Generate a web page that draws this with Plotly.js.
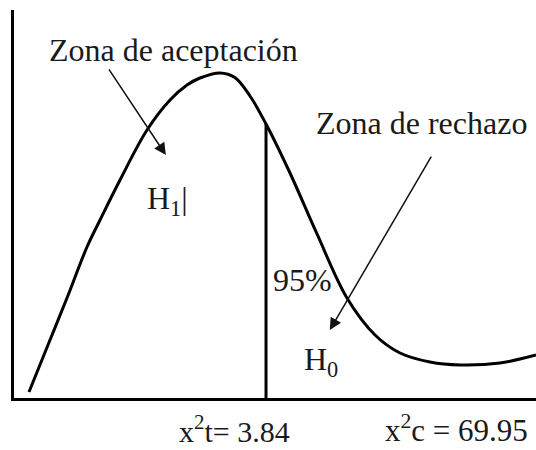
<!DOCTYPE html>
<html>
<head>
<meta charset="utf-8">
<script src="https://cdn.plot.ly/plotly-3.0.1.min.js"></script>
<style>
  html, body { margin: 0; padding: 0; background: #fff; }
  #plot { width: 536px; height: 450px; }
</style>
</head>
<body>
<div id="plot"></div>
<script>
// Curve (x on a 0-100 scale, y on a 0-100 scale)
let curveX = [2.87, 6.51, 10.15, 13.98, 16.48, 20.31, 25.48, 29.89, 33.14, 35.63, 39.46, 42.3, 45.21, 48.28, 52.87, 58.05, 63.79, 69.16, 73.95, 79.69, 85.44, 93.10, 100];
let curveY = [1.55, 13.66, 25.77, 38.92, 45.88, 56.19, 69.07, 76.80, 80.67, 82.47, 83.76, 82.6, 77.84, 70.62, 57.99, 42.27, 25.77, 16.24, 11.60, 9.28, 8.51, 9.02, 11.08];

// Critical value line
let critX = [48.28, 48.28];
let critY = [0, 70.62];

// Texts
let zoneLabels = ['Zona de aceptación', 'Zona de rechazo'];
let hypLabels = ['H<sub>1</sub>|', 'H<sub>0</sub>'];
let pctLabel = '95%';
let valueLabels = ['x<sup>2</sup>t= 3.84', 'x<sup>2</sup>c = 69.95'];

const serif = "'Liberation Serif', 'Times New Roman', serif";

let traceCurve = {
    x: curveX,
    y: curveY,
    mode: 'lines',
    type: 'scatter',
    line: { color: '#000', width: 3, shape: 'spline', smoothing: 1 },
    hoverinfo: 'skip'
};

let traceCrit = {
    x: critX,
    y: critY,
    mode: 'lines',
    type: 'scatter',
    line: { color: '#000', width: 3 },
    hoverinfo: 'skip'
};

function label(text, x, y, opts) {
    opts = opts || {};
    return {
        text: text, x: x, y: y, xref: 'x', yref: opts.yref || 'y',
        showarrow: false, xanchor: 'center', yanchor: opts.yanchor || 'middle',
        font: { family: serif, size: opts.size || 32, color: '#1a1a1a' }
    };
}

function arrow(x0, y0, x1, y1) {
    return {
        text: '', x: x1, y: y1, ax: x0, ay: y0,
        xref: 'x', yref: 'y', axref: 'x', ayref: 'y',
        showarrow: true, arrowhead: 2, arrowsize: 1.6, arrowwidth: 1.5,
        arrowcolor: '#111', standoff: 0, startstandoff: 0
    };
}

let layout = {
    width: 536,
    height: 450,
    margin: { l: 14, r: 0, t: 10, b: 52 },
    paper_bgcolor: '#fff',
    plot_bgcolor: '#fff',
    showlegend: false,
    font: { family: serif },
    xaxis: {
        range: [0, 100], showgrid: false, zeroline: false, showticklabels: false, ticks: '',
        showline: true, linecolor: '#000', linewidth: 3, fixedrange: true
    },
    yaxis: {
        range: [0, 100], showgrid: false, zeroline: false, showticklabels: false, ticks: '',
        showline: true, linecolor: '#000', linewidth: 3, fixedrange: true
    },
    annotations: [
        label(zoneLabels[0], 30.5, 89.7),
        label(zoneLabels[1], 78.0, 70.9),
        label(hypLabels[0], 29.5, 50.9),
        label(hypLabels[1], 58.8, 9.5),
        label(pctLabel, 55.2, 30.4),
        label(valueLabels[0], 42.3, -0.134, { yref: 'paper', yanchor: 'bottom', size: 30 }),
        label(valueLabels[1], 84.7, -0.134, { yref: 'paper', yanchor: 'bottom', size: 31 }),
        arrow(18.0, 85.1, 29.1, 62.6),
        arrow(80.1, 62.6, 60.5, 17.5)
    ]
};

Plotly.newPlot('plot', [traceCurve, traceCrit], layout, { staticPlot: true });
</script>
</body>
</html>
